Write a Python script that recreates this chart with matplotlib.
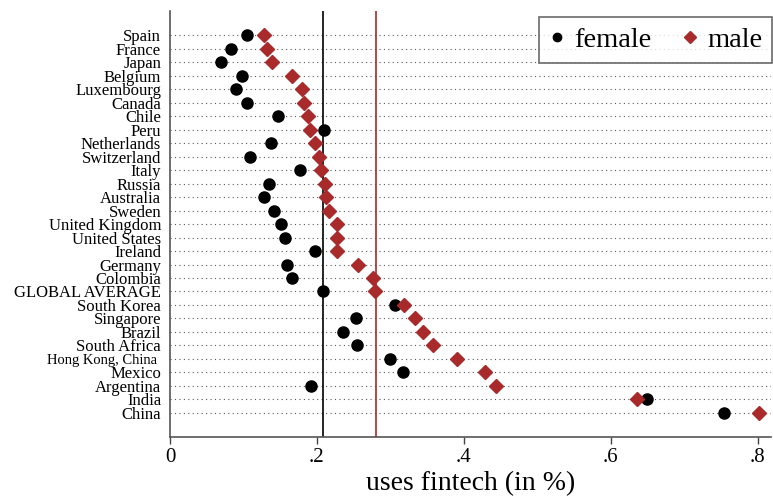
import matplotlib
matplotlib.use("Agg")
import matplotlib.pyplot as plt
from matplotlib.lines import Line2D

# Data (share using fintech)
countries = ["Spain", "France", "Japan", "Belgium", "Luxembourg", "Canada", "Chile",
             "Peru", "Netherlands", "Switzerland", "Italy", "Russia", "Australia",
             "Sweden", "United Kingdom", "United States", "Ireland", "Germany",
             "Colombia", "GLOBAL AVERAGE", "South Korea", "Singapore", "Brazil",
             "South Africa", "Hong Kong, China", "Mexico", "Argentina", "India", "China"]
female = [0.105, 0.083, 0.069, 0.098, 0.090, 0.105, 0.147, 0.209, 0.137, 0.109,
          0.177, 0.135, 0.128, 0.141, 0.151, 0.156, 0.197, 0.159, 0.166, 0.208,
          0.306, 0.253, 0.235, 0.254, 0.299, 0.317, 0.192, 0.649, 0.754]
male = [0.128, 0.132, 0.139, 0.166, 0.179, 0.182, 0.188, 0.190, 0.198, 0.203,
        0.205, 0.211, 0.212, 0.216, 0.227, 0.227, 0.228, 0.256, 0.276, 0.279,
        0.318, 0.333, 0.345, 0.358, 0.391, 0.429, 0.444, 0.636, 0.802]
avg_female = 0.208
avg_male = 0.280
xticks = [0, 0.2, 0.4, 0.6, 0.8]
xticklabels = ["0", ".2", ".4", ".6", ".8"]

RED = "#A82A2A"
plt.rcParams["font.family"] = ["Liberation Serif", "DejaVu Serif"]

fig = plt.figure(figsize=(7.73, 4.99), dpi=100)
ax = fig.add_axes([0.22, 0.124, 0.778, 0.854])

ypos = list(range(len(countries)))

# dotted row guides
for y in ypos:
    ax.axhline(y, color="#555555", linestyle=(0, (1, 3)), linewidth=0.8, zorder=1)

ax.axvline(avg_female, color="black", linewidth=1.2, zorder=2)
ax.axvline(avg_male, color=RED, linewidth=1.2, zorder=2)

ax.plot(female, ypos, "o", color="black", markersize=8, linestyle="none", zorder=3)
ax.plot(male, ypos, "D", color=RED, markersize=7.5, linestyle="none", zorder=4)

ax.set_ylim(len(countries) - 1 + 1.8, -1.8)
ax.set_xlim(0, 0.819)
ax.set_yticks(ypos)
ax.set_yticklabels([c + " " if c == "Hong Kong, China" else c for c in countries])
for lab in ax.get_yticklabels():
    lab.set_fontsize(10.5 if lab.get_text().startswith("Hong") else 12)
ax.tick_params(axis="y", length=0, pad=6.5)
ax.set_xticks(xticks)
ax.set_xticklabels(xticklabels, fontsize=15)
ax.tick_params(axis="x", length=5, width=1, color="#444444", pad=3)
ax.set_xlabel("uses fintech (in %)", fontsize=20, labelpad=3)

for s in ("top", "right"):
    ax.spines[s].set_visible(False)
ax.spines["left"].set_color("#555555")
ax.spines["left"].set_linewidth(1.2)
ax.spines["bottom"].set_color("#555555")
ax.spines["bottom"].set_linewidth(1.2)

handles = [Line2D([], [], marker="o", color="black", linestyle="none", markersize=6),
           Line2D([], [], marker="D", color=RED, linestyle="none", markersize=6)]
leg = ax.legend(handles, ["female", "male"], loc="upper right", ncol=2, fontsize=20.5,
                frameon=True, fancybox=False, edgecolor="#444444",
                bbox_to_anchor=(0.999, 0.966), bbox_transform=fig.transFigure,
                handlelength=0.6, handletextpad=0.3, columnspacing=1.05,
                borderpad=0.35, borderaxespad=0)
leg.get_frame().set_linewidth(1.2)

fig.savefig("out.png", dpi=100)
